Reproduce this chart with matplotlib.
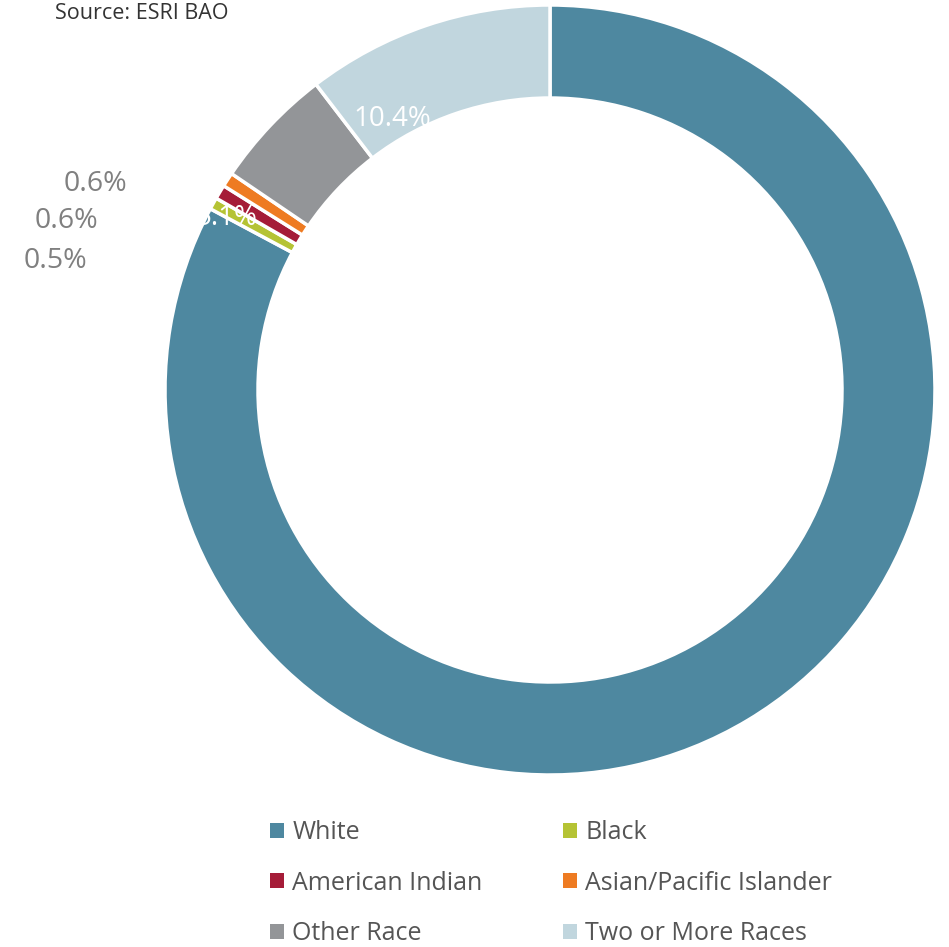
import matplotlib.pyplot as plt
from matplotlib.patches import Patch

plt.rcParams['font.family'] = ['Open Sans', 'DejaVu Sans']

categories = ["White", "Black", "American Indian", "Asian/Pacific Islander",
              "Other Race", "Two or More Races"]
shares = [82.8, 0.5, 0.6, 0.6, 5.1, 10.4]
colors = ["#4e88a0", "#b5c334", "#a51c38", "#ee7b22", "#939598", "#c1d6de"]

W, H = 949, 947
fig = plt.figure(figsize=(W / 100, H / 100), dpi=100)
ax = fig.add_axes([0, 0, 1, 1])

cx, cy, r = 550, H - 390, 385
wedges, _ = ax.pie(shares, colors=colors, startangle=90, counterclock=False,
                   center=(cx, cy), radius=r, frame=True,
                   wedgeprops=dict(width=93, edgecolor='white', linewidth=2.5))
ax.set_xlim(0, W)
ax.set_ylim(0, H)
ax.set_aspect('equal')
ax.axis('off')

# data labels, placed like the original (Excel style)
ax.text(392, H - 119, f"{shares[5]:.1f}%", color='white', fontsize=20,
        ha='center', va='center')
ax.text(226, H - 218, f"{shares[4]:.1f}%", color='white', fontsize=20,
        ha='center', va='center')

grey = '#808080'
ax.text(127, H - 184, f"{shares[3]:.1f}%", color=grey, fontsize=20.5, ha='right', va='center')
ax.text(98, H - 221, f"{shares[2]:.1f}%", color=grey, fontsize=20.5, ha='right', va='center')
ax.text(87, H - 261, f"{shares[1]:.1f}%", color=grey, fontsize=20.5, ha='right', va='center')

ax.text(55, H - 13, "Source: ESRI BAO", fontsize=15.5,
        color='#333333', va='center', ha='left')

order = [0, 2, 4, 1, 3, 5]
handles = [Patch(facecolor=colors[i], edgecolor='none') for i in order]
labels = [categories[i] for i in order]
fig.legend(handles, labels, ncol=2, loc='upper left',
           bbox_to_anchor=(270 / W, 1 - 820 / H), frameon=False,
           fontsize=18, handlelength=0.55, handleheight=0.55, handletextpad=0.35,
           labelspacing=1.02, columnspacing=3.2, labelcolor='#555555',
           borderpad=0, borderaxespad=0)

fig.savefig('out.png', dpi=100)
